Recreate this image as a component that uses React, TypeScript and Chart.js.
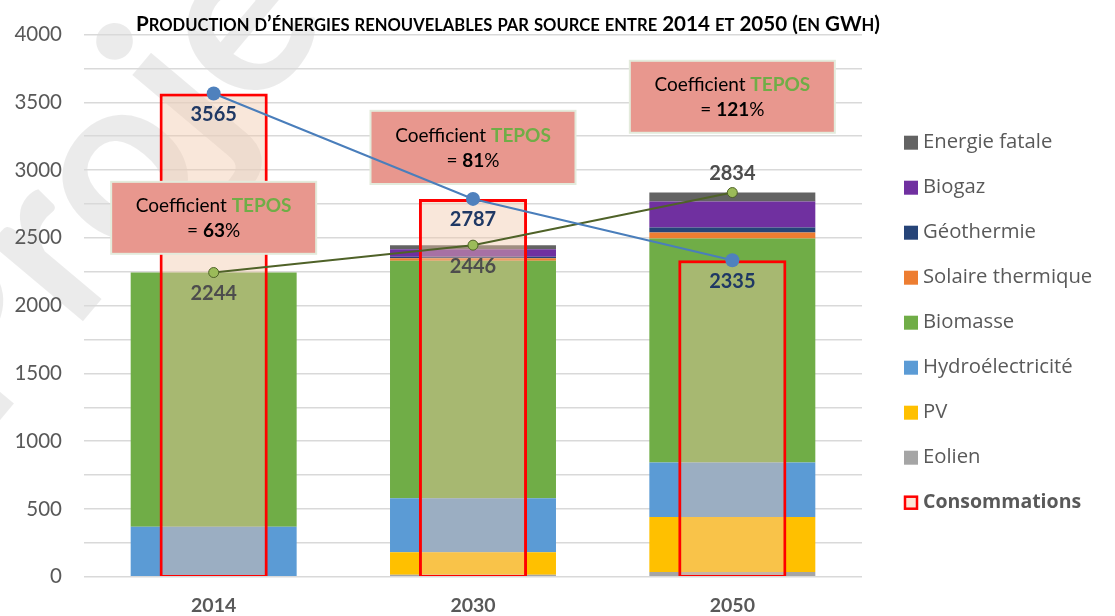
import React, { useEffect, useRef } from 'react';
import { Chart, registerables } from 'chart.js';

Chart.register(...registerables);

// ---------- Data ----------
const years = ['2014', '2030', '2050'];
const eolien = [0, 15, 35];
const pv = [5, 165, 406];
const hydro = [364, 399, 402];
const biomasse = [1875, 1751, 1652];
const solaireThermique = [0, 20, 44];
const geothermie = [0, 10, 37];
const biogaz = [0, 55, 192];
const energieFatale = [0, 31, 66];
const consommations = [3565, 2787, 2335];
const productionTotale = [2244, 2446, 2834];
const coefficientTepos = ['63', '81', '121'];
const yTickValues = [0, 500, 1000, 1500, 2000, 2500, 3000, 3500, 4000];
const legendOrder = [
  'Energie fatale',
  'Biogaz',
  'Géothermie',
  'Solaire thermique',
  'Biomasse',
  'Hydroélectricité',
  'PV',
  'Eolien',
  'Consommations',
];
const titleText = 'Production d’énergies renouvelables par source entre 2014 et 2050 (en GWh)';
const watermarkText = 'Projet';

// ---------- Layout / style ----------
const FONT = 'Lato, "Open Sans", sans-serif';
const LEGEND_FONT = '"Open Sans", Lato, sans-serif';
const GREY_TEXT = '#595959';
const CONSO_FILL = 'rgba(242,199,170,0.43)';
const CONSO_BORDER = '#FF0000';
// annotation boxes: value-space top / bottom, px width
const boxLayout = [
  { top: 2913, bottom: 2382 },
  { top: 3437, bottom: 2897 },
  { top: 3806, bottom: 3275 },
];
const BOX_WIDTH = 205;
const totalLabelSide = ['below', 'below', 'above'];

const watermarkPlugin = {
  id: 'watermark',
  beforeDraw(chart: any) {
    const ctx = chart.ctx;
    ctx.save();
    const size = 235;
    ctx.font = `bold ${size}px ${FONT}`;
    const wPr = ctx.measureText('Pr').width;
    const wo = ctx.measureText('o').width;
    ctx.translate(98, 150);
    ctx.rotate((-50 * Math.PI) / 180);
    ctx.fillStyle = 'rgba(0,0,0,0.08)';
    ctx.textBaseline = 'alphabetic';
    ctx.textAlign = 'left';
    ctx.fillText(watermarkText, -(wPr + wo / 2), size * 0.42);
    ctx.restore();
  },
};

const titlePlugin = {
  id: 'smallCapsTitle',
  afterDraw(chart: any) {
    const ctx = chart.ctx;
    const big = 20.5;
    const small = 16.5;
    const runs: { small: boolean; t: string; w?: number }[] = [];
    for (const ch of titleText) {
      const isSmall = ch !== ch.toUpperCase();
      const t = isSmall ? ch.toUpperCase() : ch;
      const last = runs[runs.length - 1];
      if (last && last.small === isSmall) last.t += t;
      else runs.push({ small: isSmall, t });
    }
    ctx.save();
    let total = 0;
    for (const r of runs) {
      ctx.font = `bold ${r.small ? small : big}px ${FONT}`;
      r.w = ctx.measureText(r.t).width;
      total += r.w;
    }
    const left = 136;
    const right = 880;
    const target = right - left;
    ctx.translate(left, 30.7);
    ctx.scale(target / total, 1);
    ctx.fillStyle = '#000';
    ctx.textBaseline = 'alphabetic';
    ctx.textAlign = 'left';
    let x = 0;
    for (const r of runs) {
      ctx.font = `bold ${r.small ? small : big}px ${FONT}`;
      ctx.fillText(r.t, x, 0);
      x += r.w as number;
    }
    ctx.restore();
  },
};

function drawRuns(ctx: any, runs: { t: string; font: string; color: string }[], cx: number, cy: number) {
  let total = 0;
  const widths: number[] = [];
  for (const r of runs) {
    ctx.font = r.font;
    const w = ctx.measureText(r.t).width;
    widths.push(w);
    total += w;
  }
  let x = cx - total / 2;
  ctx.textAlign = 'left';
  ctx.textBaseline = 'middle';
  runs.forEach((r, i) => {
    ctx.font = r.font;
    ctx.fillStyle = r.color;
    ctx.fillText(r.t, x, cy);
    x += widths[i];
  });
}

const annotationPlugin = {
  id: 'teposBoxes',
  afterDatasetDraw(chart: any, args: any) {
    const ds = chart.data.datasets[args.index];
    if (!ds || ds.label !== 'Consommations' || ds.type !== 'bar') return;
    const ctx = chart.ctx;
    const xs = chart.scales.x;
    const ys = chart.scales.y;
    ctx.save();
    coefficientTepos.forEach((val, i) => {
      const cx = xs.getPixelForValue(i);
      const top = ys.getPixelForValue(boxLayout[i].top);
      const bottom = ys.getPixelForValue(boxLayout[i].bottom);
      const left = cx - BOX_WIDTH / 2;
      ctx.fillStyle = '#E8978E';
      ctx.fillRect(left, top, BOX_WIDTH, bottom - top);
      ctx.strokeStyle = '#E3EBDC';
      ctx.lineWidth = 2;
      ctx.strokeRect(left, top, BOX_WIDTH, bottom - top);
      const cy = (top + bottom) / 2;
      const reg = `19px ${FONT}`;
      const bold = `bold 19px ${FONT}`;
      drawRuns(
        ctx,
        [
          { t: 'Coefficient ', font: reg, color: '#000' },
          { t: 'TEPOS', font: bold, color: '#70AD47' },
        ],
        cx,
        cy - 12
      );
      drawRuns(
        ctx,
        [
          { t: '= ', font: reg, color: '#000' },
          { t: val, font: bold, color: '#000' },
          { t: '%', font: reg, color: '#000' },
        ],
        cx,
        cy + 13
      );
    });
    ctx.restore();
  },
};

const valueLabelPlugin = {
  id: 'valueLabels',
  afterDatasetsDraw(chart: any) {
    const ctx = chart.ctx;
    ctx.save();
    ctx.textAlign = 'center';
    ctx.textBaseline = 'middle';
    ctx.font = `bold 20px ${FONT}`;
    chart.data.datasets.forEach((ds: any, di: number) => {
      if (ds.type !== 'line') return;
      const meta = chart.getDatasetMeta(di);
      meta.data.forEach((pt: any, i: number) => {
        const v = ds.data[i];
        let dy = 21;
        if (ds.label === 'Production totale' && totalLabelSide[i] === 'above') dy = -19;
        ctx.fillStyle = ds.label === 'Production totale' ? '#4D4D4D' : '#1F3864';
        ctx.fillText(String(v), pt.x, pt.y + dy);
      });
    });
    ctx.restore();
  },
};

const legendPlugin = {
  id: 'customLegend',
  afterDraw(chart: any) {
    const ctx = chart.ctx;
    ctx.save();
    const boxX = 904;
    const textX = 923;
    const y0 = 142.7;
    const step = 45;
    legendOrder.forEach((label, i) => {
      const ds = chart.data.datasets.find((d: any) => d.label === label && d.type === 'bar');
      if (!ds) return;
      const cy = y0 + i * step;
      if (label === 'Consommations') {
        ctx.fillStyle = '#FBE5D6';
        ctx.fillRect(boxX, cy - 7, 14, 14);
        ctx.strokeStyle = CONSO_BORDER;
        ctx.lineWidth = 2.5;
        ctx.strokeRect(boxX + 1, cy - 6, 12, 12);
        ctx.font = `bold 19.5px ${LEGEND_FONT}`;
      } else {
        ctx.fillStyle = ds.backgroundColor;
        ctx.fillRect(boxX, cy - 7, 14, 14);
        ctx.font = `20.3px ${LEGEND_FONT}`;
      }
      ctx.fillStyle = GREY_TEXT;
      ctx.textAlign = 'left';
      ctx.textBaseline = 'middle';
      ctx.fillText(label, textX, cy);
    });
    ctx.restore();
  },
};

function prodBar(label: string, data: number[], color: string) {
  return {
    type: 'bar' as const,
    label,
    data,
    backgroundColor: color,
    borderWidth: 0,
    stack: 'prod',
    order: 5,
    grouped: false,
    barPercentage: 0.64,
    categoryPercentage: 1,
  };
}

export default function App() {
  const ref = useRef<HTMLCanvasElement>(null);

  useEffect(() => {
    if (!ref.current) return;
    Chart.defaults.font.family = FONT;
    const chart = new Chart(ref.current, {
      type: 'bar',
      data: {
        labels: years,
        datasets: [
          prodBar('Eolien', eolien, '#A5A5A5'),
          prodBar('PV', pv, '#FFC000'),
          prodBar('Hydroélectricité', hydro, '#5B9BD5'),
          prodBar('Biomasse', biomasse, '#70AD47'),
          prodBar('Solaire thermique', solaireThermique, '#ED7D31'),
          prodBar('Géothermie', geothermie, '#264478'),
          prodBar('Biogaz', biogaz, '#7030A0'),
          prodBar('Energie fatale', energieFatale, '#636363'),
          {
            type: 'bar',
            label: 'Consommations',
            data: consommations,
            backgroundColor: CONSO_FILL,
            borderColor: CONSO_BORDER,
            borderWidth: { top: 3, left: 3, right: 3, bottom: 1 },
            borderSkipped: false,
            stack: 'conso',
            order: 4,
            grouped: false,
            barPercentage: 0.417,
            categoryPercentage: 1,
          } as any,
          {
            type: 'line',
            label: 'Production totale',
            data: productionTotale,
            borderColor: '#4F6228',
            borderWidth: 2,
            pointRadius: 5,
            pointBackgroundColor: '#9BBB59',
            pointBorderColor: '#4F6228',
            pointBorderWidth: 1,
            fill: false,
            tension: 0,
            stack: 'lineProd',
            order: 2,
          } as any,
          {
            type: 'line',
            label: 'Consommation',
            data: consommations,
            borderColor: '#4A7EBB',
            borderWidth: 2,
            pointRadius: 7,
            pointBackgroundColor: '#4F81BD',
            pointBorderColor: '#4F81BD',
            pointBorderWidth: 0,
            fill: false,
            tension: 0,
            stack: 'lineConso',
            order: 1,
          } as any,
        ],
      },
      options: {
        responsive: false,
        animation: false,
        layout: { padding: { left: 0, right: 253, top: 34.5, bottom: 0 } },
        plugins: {
          legend: { display: false },
          title: { display: false },
          tooltip: { enabled: false },
        },
        scales: {
          x: {
            stacked: true,
            offset: true,
            grid: { display: false, drawTicks: false },
            border: { display: false },
            ticks: {
              color: GREY_TEXT,
              font: { size: 19.5, weight: 'bold' },
              padding: 17,
            },
            afterFit: (s: any) => {
              s.height = 39.3;
            },
          },
          y: {
            stacked: true,
            min: 0,
            max: 4000,
            grid: { color: '#D9D9D9', lineWidth: 1.5, drawTicks: false },
            border: { display: false },
            ticks: {
              stepSize: 250,
              autoSkip: false,
              color: GREY_TEXT,
              font: { size: 20.5 },
              padding: 22,
              callback: (v: any) => (yTickValues.includes(Number(v)) ? String(v) : ''),
            },
            afterFit: (s: any) => {
              s.width = 84;
            },
          },
        } as any,
      },
      plugins: [watermarkPlugin, annotationPlugin, valueLabelPlugin, legendPlugin, titlePlugin],
    } as any);
    return () => chart.destroy();
  }, []);

  return (
    <div style={{ position: 'absolute', left: 0, top: 0, width: 1115, height: 616, background: '#fff' }}>
      <canvas ref={ref} width={1115} height={616} style={{ display: 'block' }} />
    </div>
  );
}
